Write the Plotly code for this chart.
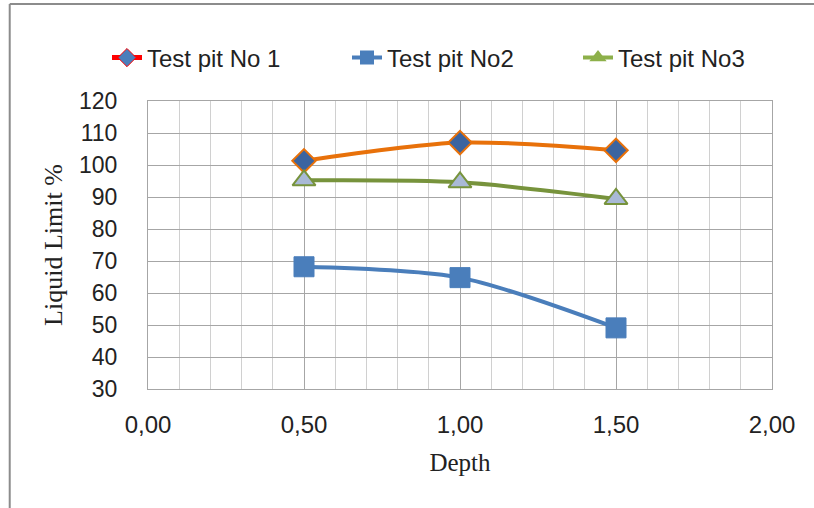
import plotly.graph_objects as go

depth = [0.5, 1.0, 1.5]
pit1 = [101.3, 107.0, 104.6]
pit2 = [68.2, 64.8, 49.1]
pit3 = [95.2, 94.6, 89.4]
names = ["Test pit No 1", "Test pit No2", "Test pit No3"]
y_ticks = [30, 40, 50, 60, 70, 80, 90, 100, 110, 120]
x_ticks = [0.0, 0.5, 1.0, 1.5, 2.0]

fig = go.Figure()

# data traces (no legend)
fig.add_trace(go.Scatter(x=depth, y=pit1, mode="lines+markers", showlegend=False,
    line=dict(color="#e8710a", width=4, shape="spline", smoothing=0.8),
    marker=dict(symbol="diamond", size=18, color="#3b64a0", line=dict(color="#e8710a", width=2))))
fig.add_trace(go.Scatter(x=depth, y=pit2, mode="lines+markers", showlegend=False,
    line=dict(color="#4a7ebb", width=4, shape="spline", smoothing=0.8),
    marker=dict(symbol="square", size=20, color="#4a7ebb", line=dict(color="#4a7ebb", width=1))))
fig.add_trace(go.Scatter(x=depth, y=pit3, mode="lines+markers", showlegend=False,
    line=dict(color="#77933c", width=4, shape="spline", smoothing=0.8),
    marker=dict(symbol="triangle-up", size=20, color="#a9b9d6", line=dict(color="#77933c", width=2))))

# legend-only traces, one legend each
fig.add_trace(go.Scatter(x=[None], y=[None], mode="lines+markers", name=names[0], legend="legend",
    line=dict(color="#ff0000", width=5),
    marker=dict(symbol="diamond", size=14, color="#4a7ebb", line=dict(color="#ff0000", width=1))))
fig.add_trace(go.Scatter(x=[None], y=[None], mode="lines+markers", name=names[1], legend="legend2",
    line=dict(color="#4a7ebb", width=4),
    marker=dict(symbol="square", size=14, color="#4a7ebb")))
fig.add_trace(go.Scatter(x=[None], y=[None], mode="lines+markers", name=names[2], legend="legend3",
    line=dict(color="#8db04a", width=4),
    marker=dict(symbol="triangle-up", size=15, color="#8db04a")))

legend_font = dict(family="Liberation Sans, sans-serif", size=24, color="#222")
def leg(xpx):
    return dict(orientation="h", x=xpx/814, xanchor="left", xref="container",
                y=1 - 58/508, yref="container", yanchor="middle",
                bgcolor="rgba(0,0,0,0)", font=legend_font, itemwidth=30)

fig.update_layout(
    width=814, height=508,
    margin=dict(l=148, r=42, t=101, b=119, autoexpand=False),
    paper_bgcolor="white", plot_bgcolor="white",
    separators=",.",
    legend=leg(107), legend2=leg(347), legend3=leg(578),
    xaxis=dict(range=[0, 2], tickvals=x_ticks, tickformat=".2f",
               showgrid=True, gridcolor="#a6a6a6", gridwidth=1,
               minor=dict(dtick=0.1, showgrid=True, gridcolor="#d0d0d0", gridwidth=1),
               showline=True, linecolor="#a6a6a6", mirror=True, zeroline=False,
               ticks="", ticklabelstandoff=14,
               tickfont=dict(family="Liberation Sans, sans-serif", size=24, color="#222"),
               title=dict(text="Depth", font=dict(family="Liberation Serif, serif", size=25, color="#222"), standoff=16)),
    yaxis=dict(range=[30, 120], tickvals=y_ticks,
               showgrid=True, gridcolor="#a6a6a6", gridwidth=1,
               showline=True, linecolor="#a6a6a6", mirror=True, zeroline=False,
               ticks="", ticklabelstandoff=25,
               tickfont=dict(family="Liberation Sans, sans-serif", size=23, color="#222"),
               title=dict(text="Liquid Limit %", font=dict(family="Liberation Serif, serif", size=26, color="#222"), standoff=8)),
)

# outer chart frame lines
fig.add_shape(type="line", xref="paper", yref="paper", x0=-0.2216, x1=1.1, y0=1.337, y1=1.337,
              line=dict(color="#8c8c8c", width=2))
fig.add_shape(type="line", xref="paper", yref="paper", x0=-0.2216, x1=-0.2216, y0=-0.5, y1=1.337,
              line=dict(color="#8c8c8c", width=2))

fig.write_html("out.html")
